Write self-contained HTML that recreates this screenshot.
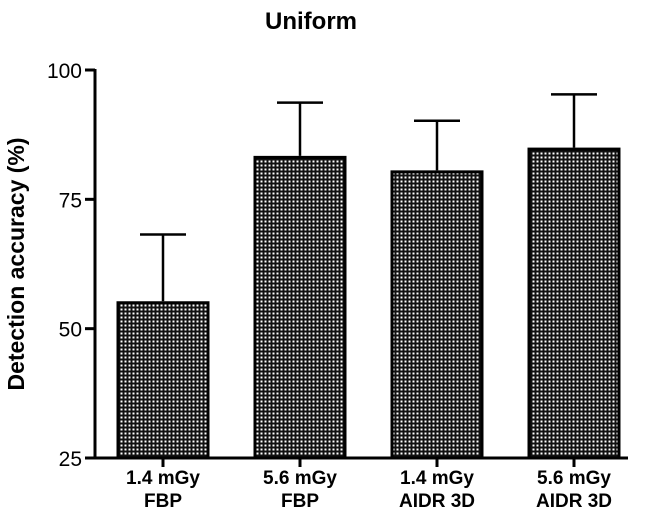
<!DOCTYPE html>
<html><head><meta charset="utf-8"><style>
body{margin:0;background:#fff}
svg{display:block;font-family:"Liberation Sans",Arial,sans-serif;font-weight:bold}
</style></head><body>
<svg id="chart" width="645" height="512" viewBox="0 0 645 512">
<defs><pattern id="chk" width="4" height="4" patternUnits="userSpaceOnUse">
<rect width="4" height="4" fill="#111"/><rect x="0.5" y="0.5" width="2" height="2" fill="#fff"/></pattern></defs>
<text x="311" y="29" text-anchor="middle" font-size="24">Uniform</text>
<text transform="translate(24,264) rotate(-90)" text-anchor="middle" font-size="23">Detection accuracy (%)</text>
<g id="axes"></g><g id="bars"></g>
</svg>
<script>
const categories=[["1.4 mGy","FBP"],["5.6 mGy","FBP"],["1.4 mGy","AIDR 3D"],["5.6 mGy","AIDR 3D"]];
const means=[55.3,83.4,80.6,85.0];
const errors=[12.9,10.3,9.6,10.3];
const yTicks=[25,50,75,100];
const NS="http://www.w3.org/2000/svg";
const y0=458,y1=70,vmin=25,vmax=100;
const y=v=>y0-(v-vmin)/(vmax-vmin)*(y0-y1);
const x=i=>163+i*137;
const bw=93;
function mk(t,a,p){const e=document.createElementNS(NS,t);for(const k in a)e.setAttribute(k,a[k]);p.appendChild(e);return e;}
const ax=document.getElementById('axes'),bg=document.getElementById('bars');
let e=mk('line',{x1:95,y1:y1-1,x2:95,y2:y0+1.5,stroke:'#000','stroke-width':3},ax);

e=mk('line',{x1:95,y1:y0,x2:628,y2:y0,stroke:'#000','stroke-width':3},ax);

yTicks.forEach(t=>{
 mk('line',{x1:85,x2:95,y1:y(t),y2:y(t),stroke:'#000','stroke-width':3},ax);
 const tx=mk('text',{x:82,y:y(t)+8,'text-anchor':'end','font-size':21,'font-weight':'normal'},ax);tx.textContent=t;
 
 
});
categories.forEach((c,i)=>{
 const cx=x(i);
 const el=mk('line',{x1:cx,x2:cx,y1:y(means[i]+errors[i]),y2:y(means[i]),stroke:'#000','stroke-width':2.5},bg);
 
 
 const cap=mk('line',{x1:cx-23,x2:cx+23,y1:y(means[i]+errors[i]),y2:y(means[i]+errors[i]),stroke:'#000','stroke-width':2.5},bg);
 
 
 const r=mk('rect',{x:cx-bw/2+1.5,y:y(means[i])+1.5,width:bw-3,height:y0-y(means[i])-1.5,fill:'url(#chk)',stroke:'#000','stroke-width':3},bg);
 
 
 mk('line',{x1:cx,x2:cx,y1:y0,y2:y0+9,stroke:'#000','stroke-width':3},ax);
 const t=mk('text',{x:cx,y:484,'text-anchor':'middle','font-size':19},ax);
 
 
 const a=mk('tspan',{x:cx},t);a.textContent=c[0];
 const b=mk('tspan',{x:cx,dy:23},t);b.textContent=c[1];
});
</script>
</body></html>
